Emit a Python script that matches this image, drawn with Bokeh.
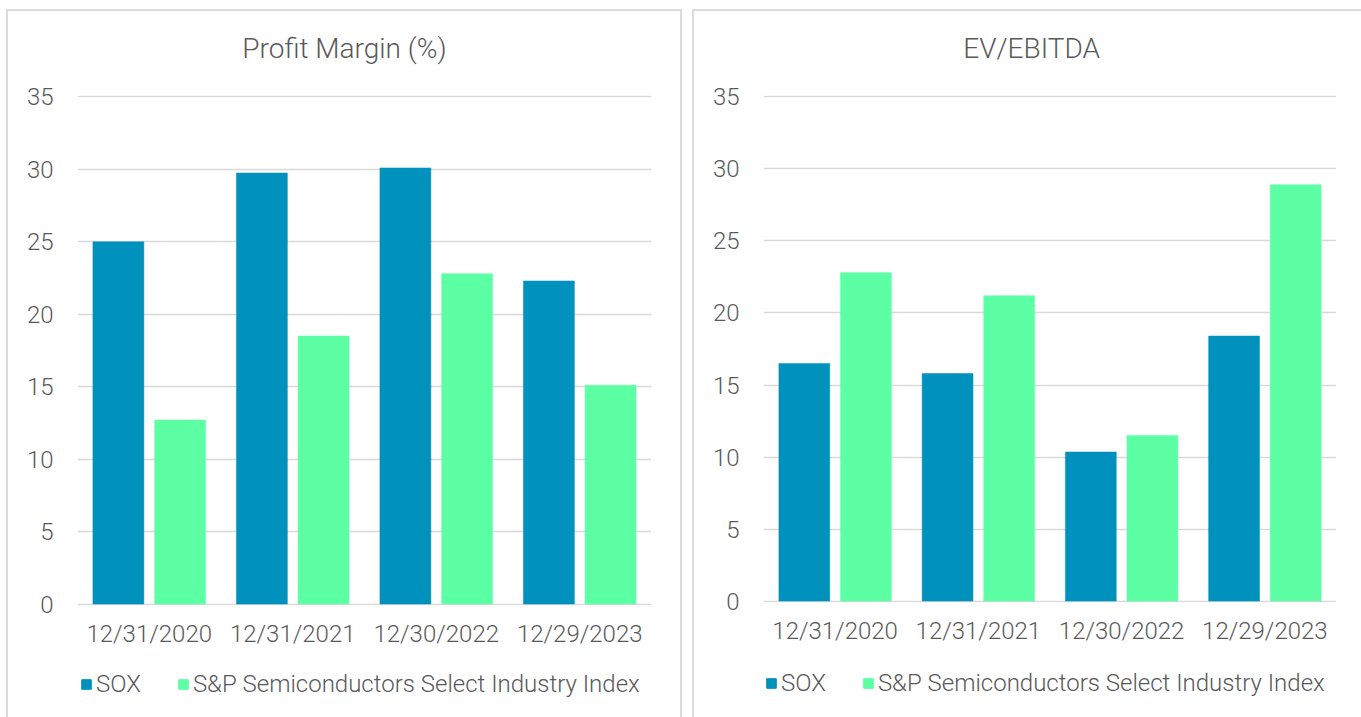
from bokeh.plotting import figure
from bokeh.models import ColumnDataSource, Legend, LegendItem, FactorRange, FixedTicker, Range1d, Label
from bokeh.transform import dodge
from bokeh.layouts import row, column
from bokeh.embed import file_html
from bokeh.resources import INLINE

dates = ["12/31/2020", "12/31/2021", "12/30/2022", "12/29/2023"]
series_names = ["SOX", "S&P Semiconductors Select Industry Index"]

profit_sox = [25.0, 29.75, 30.1, 22.3]
profit_sp = [12.7, 18.5, 22.8, 15.1]

ev_sox = [16.5, 15.8, 10.35, 18.4]
ev_sp = [22.8, 21.2, 11.5, 28.9]

titles = ["Profit Margin (%)", "EV/EBITDA"]
y_ticks = [0, 5, 10, 15, 20, 25, 30, 35]

SOX_COLOR = "#0091BD"
SP_COLOR = "#5DFFA5"
TEXT_COLOR = "#595959"
GRID_COLOR = "#D9D9D9"
BORDER = "2px solid #DCDCDC"
FONT = "Roboto Light"


def make_panel(title, title_x, sox, sp, frame_w, frame_h, min_left, min_right, legend_h,
               legend_loc, margin, right_border):
    src = ColumnDataSource(dict(dates=dates, sox=sox, sp=sp))
    total_w = min_left + frame_w + min_right

    # title strip
    tf = figure(width=total_w, height=68, x_range=Range1d(0, 1), y_range=Range1d(0, 1),
                output_backend="svg", toolbar_location=None, min_border=0,
                x_axis_type=None, y_axis_type=None)
    tf.outline_line_color = None
    tf.xgrid.visible = False
    tf.ygrid.visible = False
    tf.add_layout(Label(x=title_x, y=0.456, text=title, text_align="center",
                        text_baseline="middle", text_font=FONT, text_font_size="28px",
                        text_color=TEXT_COLOR))

    p = figure(
        frame_width=frame_w, frame_height=frame_h,
        x_range=FactorRange(*dates, range_padding=0),
        y_range=Range1d(-0.1, 35.1),
        output_backend="svg", toolbar_location=None,
        min_border_left=min_left, min_border_right=min_right,
        min_border_top=16, min_border_bottom=47,
    )
    p.outline_line_color = None
    p.background_fill_color = "white"
    p.border_fill_color = "white"

    p.vbar(x=dodge("dates", -0.215, range=p.x_range), top="sox", width=0.355,
           source=src, fill_color=SOX_COLOR, line_color=SOX_COLOR, line_width=0.5)
    p.vbar(x=dodge("dates", 0.215, range=p.x_range), top="sp", width=0.355,
           source=src, fill_color=SP_COLOR, line_color=SP_COLOR, line_width=0.5)

    p.yaxis.ticker = FixedTicker(ticks=y_ticks)
    for ax in (p.xaxis[0], p.yaxis[0]):
        ax.axis_line_color = None
        ax.major_tick_line_color = None
        ax.minor_tick_line_color = None
        ax.major_label_text_font = FONT
        ax.major_label_text_font_size = "24px"
        ax.major_label_text_color = TEXT_COLOR
    p.yaxis.major_label_standoff = 18
    p.xaxis.major_label_standoff = 8

    p.xgrid.grid_line_color = None
    p.ygrid.grid_line_color = GRID_COLOR
    p.ygrid.grid_line_width = 1.5
    p.ygrid.ticker = FixedTicker(ticks=y_ticks)

    # legend strip (same panel, below the chart)
    lf = figure(width=total_w, height=legend_h,
                x_range=FactorRange(*dates), y_range=Range1d(0, 1),
                output_backend="svg", toolbar_location=None, min_border=0,
                x_axis_type=None, y_axis_type=None)
    lf.outline_line_color = None
    lf.xgrid.visible = False
    lf.ygrid.visible = False
    g1 = lf.vbar(x="dates", top="sox", width=0.3, source=src,
                 fill_color=SOX_COLOR, line_color=SOX_COLOR, visible=False)
    g2 = lf.vbar(x="dates", top="sp", width=0.3, source=src,
                 fill_color=SP_COLOR, line_color=SP_COLOR, visible=False)
    legend = Legend(items=[LegendItem(label=series_names[0], renderers=[g1]),
                           LegendItem(label=series_names[1], renderers=[g2])],
                    orientation="horizontal", location=legend_loc,
                    padding=0, margin=0, spacing=36, label_standoff=4,
                    glyph_width=12, glyph_height=12,
                    label_text_font=FONT, label_text_font_size="24px",
                    label_text_color=TEXT_COLOR, inactive_fill_alpha=0,
                    border_line_color=None, background_fill_alpha=0)
    lf.add_layout(legend, "center")

    styles = {"border-top": BORDER, "border-left": BORDER}
    if right_border:
        styles["border-right"] = BORDER
    return column(tf, p, lf, spacing=0, styles=styles, margin=margin)


c1 = make_panel(titles[0], 0.465, profit_sox, profit_sp, 574, 510, 69, 29, 65, (3, 19),
                (9, 0, 0, 6), True)
c2 = make_panel(titles[1], 0.468, ev_sox, ev_sp, 573, 507, 69, 25, 68, (2, 20),
                (9, 0, 0, 10), False)
layout = row(c1, c2, spacing=0)

open("out.html", "w").write(file_html(layout, INLINE))
